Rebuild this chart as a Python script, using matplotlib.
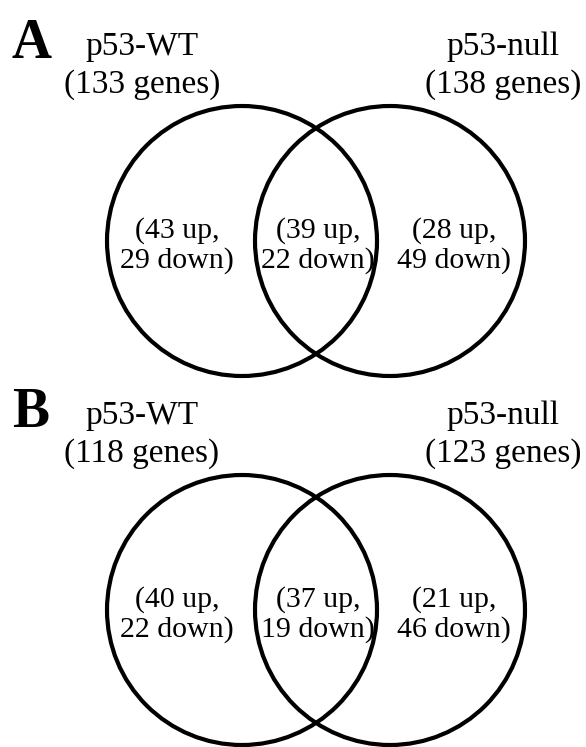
import matplotlib

matplotlib.use("Agg")
import matplotlib.pyplot as plt
from matplotlib.patches import Circle

# data
PANELS = ["A", "B"]
SETS = ["p53-WT", "p53-null"]
TOTAL_GENES = [[133, 138], [118, 123]]          # per panel: WT, null
UP = [[43, 39, 28], [40, 37, 21]]               # WT only, both, null only
DOWN = [[29, 22, 49], [22, 19, 46]]

W, H = 586, 747
plt.rcParams["font.family"] = ["Liberation Serif", "DejaVu Serif"]

fig = plt.figure(figsize=(W / 100, H / 100), dpi=100)
ax = fig.add_axes([0, 0, 1, 1])
ax.set_xlim(0, W)
ax.set_ylim(H, 0)
ax.set_aspect("equal")
ax.axis("off")

# layout (pixel units)
R = 135
CX = [242, 390]
CY0, DY = 241, 369
region_x = [177, 318, 454]

for p, name in enumerate(PANELS):
    cy = CY0 + p * DY
    top = cy - 241
    ax.text(31, top + 44, name, fontsize=40, fontweight="bold",
            ha="center", va="center")
    for s, (lab, tx) in enumerate(zip(SETS, [142, 503])):
        ax.text(tx, top + 47, lab, fontsize=24, ha="center", va="center")
        ax.text(tx, top + 85, f"({TOTAL_GENES[p][s]} genes)", fontsize=24,
                ha="center", va="center")
    for cx in CX:
        ax.add_patch(Circle((cx, cy), R, fill=False, lw=3, ec="black"))
    for k, rx in enumerate(region_x):
        ax.text(rx, cy - 10, f"({UP[p][k]} up,", fontsize=21.5,
                ha="center", va="center")
        ax.text(rx, cy + 20, f"{DOWN[p][k]} down)", fontsize=21.5,
                ha="center", va="center")

fig.savefig("out.png", dpi=100, facecolor="white")
